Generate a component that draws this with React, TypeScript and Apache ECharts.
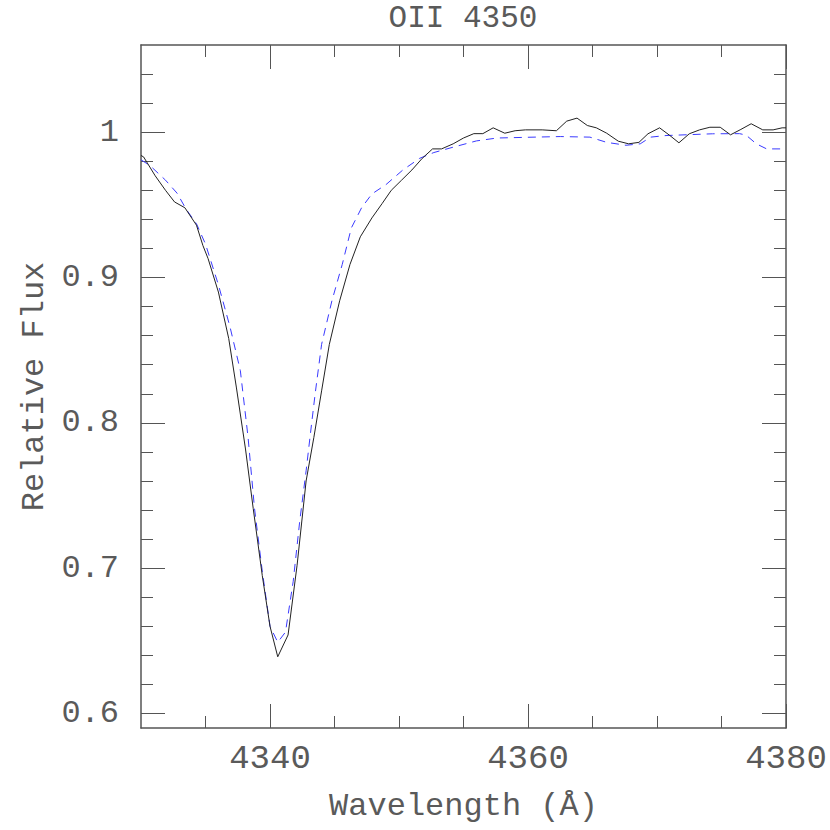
import React, { useEffect, useRef } from "react";
import * as echarts from "echarts";

const obsWave = [4330.0, 4330.2, 4331.1, 4331.9, 4332.6, 4333.4, 4334.3, 4334.8, 4335.2, 4336.0, 4336.8, 4337.4, 4338.1, 4338.7, 4339.4, 4340.0, 4340.6, 4341.4, 4342.1, 4342.8, 4343.4, 4344.0, 4344.6, 4345.4, 4346.2, 4347.0, 4347.9, 4348.7, 4349.4, 4350.2, 4351.0, 4351.8, 4352.6, 4353.3, 4354.2, 4355.0, 4355.8, 4356.5, 4357.3, 4358.2, 4359.0, 4359.8, 4361.1, 4362.2, 4363.0, 4363.8, 4364.6, 4365.3, 4366.1, 4367.0, 4367.8, 4368.6, 4369.3, 4370.2, 4371.0, 4371.7, 4372.5, 4373.3, 4374.1, 4374.9, 4375.7, 4376.5, 4377.3, 4378.2, 4379.0, 4379.7, 4380.0];
const obsFlux = [0.984, 0.983, 0.970, 0.960, 0.952, 0.948, 0.936, 0.922, 0.913, 0.890, 0.858, 0.824, 0.782, 0.741, 0.695, 0.660, 0.639, 0.654, 0.702, 0.760, 0.790, 0.822, 0.854, 0.884, 0.909, 0.928, 0.941, 0.951, 0.960, 0.967, 0.974, 0.982, 0.9885, 0.9885, 0.992, 0.996, 0.999, 0.999, 1.003, 0.9993, 1.001, 1.0016, 1.0016, 1.001, 1.0076, 1.0097, 1.0046, 1.003, 0.9993, 0.9938, 0.992, 0.993, 0.9989, 1.003, 0.9977, 0.9927, 0.9989, 1.0016, 1.0034, 1.0034, 0.9982, 1.0019, 1.0058, 1.0016, 1.0016, 1.003, 1.003];

const modelWave = [4330.0, 4330.7, 4331.9, 4332.8, 4333.5, 4334.3, 4335.0, 4336.0, 4336.9, 4337.7, 4338.3, 4338.8, 4339.4, 4340.0, 4340.6, 4341.2, 4341.8, 4342.3, 4342.8, 4343.1, 4343.5, 4344.0, 4344.8, 4345.6, 4346.3, 4347.1, 4347.9, 4349.0, 4350.3, 4351.6, 4352.7, 4354.2, 4356.0, 4357.6, 4360.0, 4362.5, 4364.8, 4366.1, 4367.6, 4368.7, 4369.5, 4370.7, 4374.3, 4376.4, 4376.9, 4377.7, 4378.5, 4380.0];
const modelFlux = [0.981, 0.977, 0.967, 0.958, 0.947, 0.937, 0.923, 0.895, 0.866, 0.836, 0.790, 0.741, 0.698, 0.660, 0.649, 0.656, 0.691, 0.732, 0.767, 0.790, 0.820, 0.854, 0.884, 0.909, 0.934, 0.948, 0.9575, 0.964, 0.974, 0.982, 0.986, 0.9897, 0.994, 0.996, 0.9965, 0.997, 0.9966, 0.993, 0.991, 0.992, 0.9966, 0.9977, 0.9989, 0.999, 0.998, 0.992, 0.9885, 0.9885];

const xMajorTicks = [4340, 4360, 4380];
const xMinorTicks = [4335, 4345, 4350, 4355, 4365, 4370, 4375];
const yMajorTicks = [0.6, 0.7, 0.8, 0.9, 1.0];
const yMinorTicks = [0.62, 0.64, 0.66, 0.68, 0.72, 0.74, 0.76, 0.78, 0.82, 0.84, 0.86, 0.88, 0.92, 0.94, 0.96, 0.98, 1.02, 1.04];

const FONT = "Liberation Mono";
const TXT = "#5a5a5a";
const AX = "#555";

function App() {
  const ref = useRef<HTMLDivElement>(null);
  useEffect(() => {
    document.body.style.margin = "0";
    const chart = echarts.init(ref.current!, null, { renderer: "svg" });
    const xBase = { type: "value", min: 4330, max: 4380, splitLine: { show: false } };
    const yBase = { type: "value", min: 0.59, max: 1.06, splitLine: { show: false } };
    const fmtY = (v: number) => String(parseFloat(v.toFixed(2)));
    const fmtX = (v: number) => String(Math.round(v));
    const tickStyle = { color: AX, width: 1 };
    chart.setOption({
      animation: false,
      title: {
        text: "OII 4350",
        left: 463,
        textAlign: "center",
        top: 3,
        padding: 0,
        textStyle: { fontFamily: FONT, fontSize: 31, lineHeight: 31, fontWeight: "normal", color: TXT },
      },
      grid: { left: 141, top: 45, width: 645, height: 683, outerBoundsMode: "none", containLabel: false },
      xAxis: [
        {
          ...xBase,
          position: "bottom",
          axisLine: { show: true, lineStyle: { color: AX, width: 1.5 } },
          axisTick: { show: true, inside: true, length: 24, lineStyle: tickStyle, customValues: xMajorTicks },
          axisLabel: { show: true, customValues: xMajorTicks, margin: 14, fontFamily: FONT, fontSize: 34, color: TXT, formatter: fmtX },
          name: "Wavelength (Å)",
          nameLocation: "middle",
          nameGap: 62,
          nameTextStyle: { fontFamily: FONT, fontSize: 32, color: TXT },
        },
        {
          ...xBase,
          position: "bottom",
          axisLine: { show: false },
          axisTick: { show: true, inside: true, length: 12, lineStyle: tickStyle, customValues: xMinorTicks },
          axisLabel: { show: false },
        },
        {
          ...xBase,
          position: "top",
          axisLine: { show: true, lineStyle: { color: AX, width: 1.5 } },
          axisTick: { show: true, inside: true, length: 24, lineStyle: tickStyle, customValues: xMajorTicks },
          axisLabel: { show: false },
        },
        {
          ...xBase,
          position: "top",
          axisLine: { show: false },
          axisTick: { show: true, inside: true, length: 12, lineStyle: tickStyle, customValues: xMinorTicks },
          axisLabel: { show: false },
        },
      ],
      yAxis: [
        {
          ...yBase,
          position: "left",
          axisLine: { show: true, lineStyle: { color: AX, width: 1.5 } },
          axisTick: { show: true, inside: true, length: 24, lineStyle: tickStyle, customValues: yMajorTicks },
          axisLabel: { show: true, customValues: yMajorTicks, margin: 22, fontFamily: FONT, fontSize: 32, color: TXT, formatter: fmtY },
          name: "Relative Flux",
          nameLocation: "middle",
          nameRotate: 90,
          nameGap: 86,
          nameTextStyle: { fontFamily: FONT, fontSize: 32, color: TXT },
        },
        {
          ...yBase,
          position: "left",
          axisLine: { show: false },
          axisTick: { show: true, inside: true, length: 12, lineStyle: tickStyle, customValues: yMinorTicks },
          axisLabel: { show: false },
        },
        {
          ...yBase,
          position: "right",
          axisLine: { show: true, lineStyle: { color: AX, width: 1.5 } },
          axisTick: { show: true, inside: true, length: 24, lineStyle: tickStyle, customValues: yMajorTicks },
          axisLabel: { show: false },
        },
        {
          ...yBase,
          position: "right",
          axisLine: { show: false },
          axisTick: { show: true, inside: true, length: 12, lineStyle: tickStyle, customValues: yMinorTicks },
          axisLabel: { show: false },
        },
      ],
      series: [
        {
          type: "line",
          name: "model",
          xAxisIndex: 0,
          yAxisIndex: 0,
          data: modelWave.map((w, i) => [w, modelFlux[i]]),
          showSymbol: false,
          lineStyle: { color: "#3a3aff", width: 1, type: [8, 6] },
          z: 2,
        },
        {
          type: "line",
          name: "observed",
          xAxisIndex: 0,
          yAxisIndex: 0,
          data: obsWave.map((w, i) => [w, obsFlux[i]]),
          showSymbol: false,
          lineStyle: { color: "#222", width: 1 },
          z: 3,
        },
      ],
    });
    return () => chart.dispose();
  }, []);
  return <div ref={ref} style={{ width: 830, height: 830 }} />;
}

export default App;
